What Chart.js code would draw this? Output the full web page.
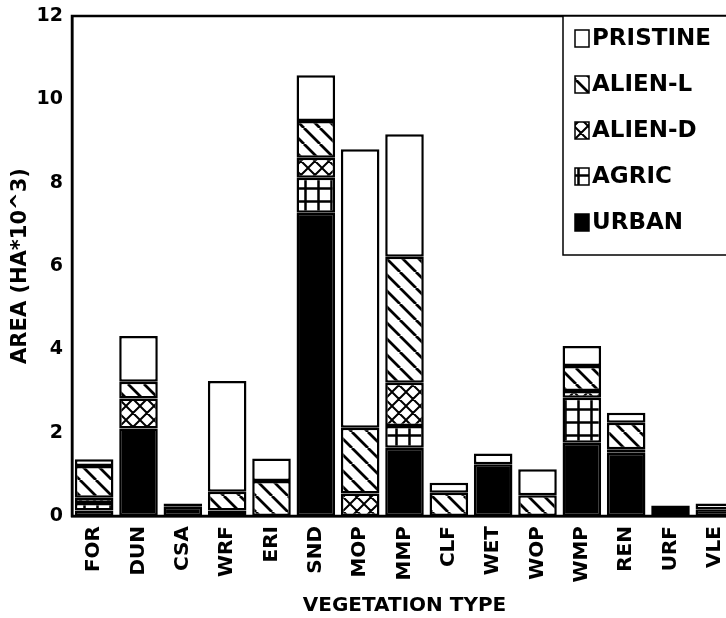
<!DOCTYPE html>
<html lang="en">
<head>
  <title>Area by vegetation type</title>
  <meta charset="UTF-8">
  <script src="https://cdn.jsdelivr.net/npm/chart.js"></script>
  <style>
    html, body { margin: 0; padding: 0; background: #fff; overflow: hidden; }
  </style>
</head>
<body>
  <canvas id="chart" width="760" height="618"></canvas>

<script>
  const tipos = ['FOR', 'DUN', 'CSA', 'WRF', 'ERI', 'SND', 'MOP', 'MMP', 'CLF', 'WET', 'WOP', 'WMP', 'REN', 'URF', 'VLE'];
  const urban    = [0.13, 2.1, 0.22, 0.07, null, 7.28, null, 1.64, null, 1.24, null, 1.76, 1.52, 0.05, 0.16];
  const agric    = [0.18, null, 0.08, 0.06, null, 0.84, null, 0.52, null, null, null, 1.08, 0.08, null, null];
  const alienD   = [0.13, 0.72, null, null, null, 0.48, 0.54, 1.04, null, null, null, 0.16, null, null, null];
  const alienL   = [0.76, 0.4, null, 0.45, 0.84, 0.88, 1.58, 3.02, 0.56, null, 0.5, 0.6, 0.64, 0.12, null];
  const pristine = [0.16, 1.1, null, 2.66, 0.54, 1.1, 6.68, 2.94, 0.24, 0.26, 0.62, 0.48, 0.24, 0.08, 0.14];
  const yTicks = [0, 2, 4, 6, 8, 10, 12];

  const fonte = "'DejaVu Sans', 'Liberation Sans', sans-serif";

  // fill patterns (hatching like the printed figure)
  function hachura(tipo) {
    const s = tipo === 'diag' ? 16 : (tipo === 'cruz' ? 14 : 13);
    const c = document.createElement('canvas');
    c.width = s; c.height = s;
    const g = c.getContext('2d');
    g.fillStyle = '#fff';
    g.fillRect(0, 0, s, s);
    g.strokeStyle = '#000';
    g.beginPath();
    if (tipo === 'diag' || tipo === 'cruz') {
      g.lineWidth = tipo === 'diag' ? 2.8 : 2;
      for (let k = -1; k <= 1; k++) {
        g.moveTo(k * s, 0); g.lineTo(k * s + s, s);
        if (tipo === 'cruz') { g.moveTo(k * s + s, 0); g.lineTo(k * s, s); }
      }
    } else if (tipo === 'grade') {
      g.lineWidth = 2.5;
      g.moveTo(0, s / 2); g.lineTo(s, s / 2);
      g.moveTo(s / 2, 0); g.lineTo(s / 2, s);
    }
    g.stroke();
    return g.createPattern(c, 'repeat');
  }

  function serie(label, dados, fundo) {
    return {
      label: label,
      data: dados,
      backgroundColor: fundo,
      borderColor: '#000',
      borderWidth: 2.5,
      borderSkipped: false,
      barPercentage: 0.87,
      categoryPercentage: 1
    };
  }

  // frame around plot area + legend box inside the top right corner
  const moldura = {
    id: 'moldura',
    afterDatasetsDraw(chart) {
      const ctx = chart.ctx;
      const a = chart.chartArea;
      ctx.save();
      ctx.strokeStyle = '#000';
      ctx.lineWidth = 2.5;
      ctx.strokeRect(a.left, a.top, a.right - a.left, a.bottom - a.top);

      const bx = 563, by = a.top, bh = 255 - a.top;
      ctx.fillStyle = '#fff';
      ctx.fillRect(bx, by, a.right - bx, bh);
      ctx.lineWidth = 1.5;
      ctx.strokeRect(bx, by, a.right - bx, bh);

      const ds = chart.data.datasets.slice().reverse();
      ctx.font = 'bold 23px ' + fonte;
      ctx.textBaseline = 'middle';
      ds.forEach((d, i) => {
        const cy = 38.5 + i * 46;
        ctx.fillStyle = d.backgroundColor;
        ctx.fillRect(575, cy - 8.5, 14, 17);
        ctx.lineWidth = 1.5;
        ctx.strokeRect(575, cy - 8.5, 14, 17);
        ctx.fillStyle = '#000';
        ctx.fillText(d.label, 592, cy + 1);
      });
      ctx.restore();
    }
  };

  const config = {
    type: 'bar',
    data: {
      labels: tipos,
      datasets: [
        serie('URBAN', urban, '#000'),
        serie('AGRIC', agric, hachura('grade')),
        serie('ALIEN-D', alienD, hachura('cruz')),
        serie('ALIEN-L', alienL, hachura('diag')),
        serie('PRISTINE', pristine, '#fff')
      ]
    },
    options: {
      responsive: false,
      animation: false,
      layout: { padding: { top: 16, right: 23, bottom: 0, left: 0 } },
      plugins: {
        legend: { display: false },
        tooltip: { enabled: false }
      },
      scales: {
        x: {
          stacked: true,
          grid: { display: false, drawTicks: false },
          border: { display: true, color: '#000', width: 2.5 },
          ticks: {
            color: '#000',
            font: { family: fonte, size: 20, weight: 'bold' },
            minRotation: 90,
            maxRotation: 90,
            padding: 10,
            autoSkip: false
          },
          title: {
            display: true,
            text: 'VEGETATION TYPE',
            color: '#000',
            font: { family: fonte, size: 20, weight: 'bold' },
            padding: { top: 0, bottom: 0 }
          },
          afterFit(s) { s.height = 102; }
        },
        y: {
          stacked: true,
          min: 0,
          max: 12,
          grid: { display: false, drawTicks: false },
          border: { display: true, color: '#000', width: 2.5 },
          afterBuildTicks(s) { s.ticks = yTicks.map(v => ({ value: v })); },
          ticks: {
            color: '#000',
            font: { family: fonte, size: 19, weight: 'bold' },
            padding: 9
          },
          title: {
            display: true,
            text: 'AREA (HA*10^3)',
            color: '#000',
            font: { family: fonte, size: 21, weight: 'bold' },
            padding: { top: 8, bottom: 4 }
          },
          afterFit(s) { s.width = 72; s.paddingTop = 0; s.paddingBottom = 0; }
        }
      }
    },
    plugins: [moldura]
  };

  new Chart(document.getElementById('chart'), config);
</script>
</body>
</html>
